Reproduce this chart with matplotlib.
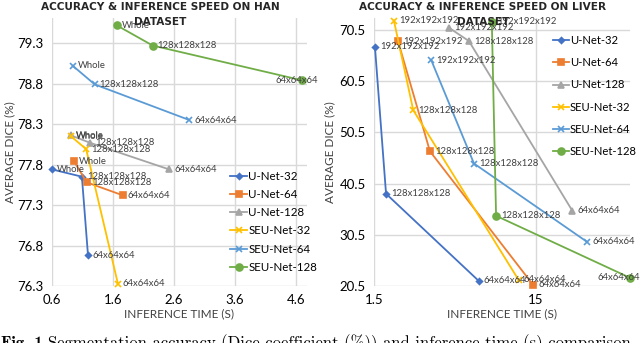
import numpy as np
import matplotlib
matplotlib.use("Agg")
import matplotlib.pyplot as plt
from matplotlib.transforms import offset_copy

# ---------------- data ----------------
series_names = ["U-Net-32", "U-Net-64", "U-Net-128", "SEU-Net-32", "SEU-Net-64", "SEU-Net-128"]
colors = ["#4472C4", "#ED7D31", "#A5A5A5", "#FFC000", "#5B9BD5", "#70AD47"]
markers = ["D", "s", "^", "x", "x", "o"]
msizes = [3, 5, 4.5, 5, 5, 5]

han_labels = ["Whole", "128x128x128", "64x64x64"]
han_time = {
    "U-Net-32": [0.60, 1.09, 1.19],
    "U-Net-64": [0.96, 1.17, 1.76],
    "U-Net-128": [0.91, 1.22, 2.52],
    "SEU-Net-32": [0.91, 1.16, 1.68],
    "SEU-Net-64": [0.94, 1.30, 2.85],
    "SEU-Net-128": [1.66, 2.25, 4.70],
}
han_dice = {
    "U-Net-32": [77.74, 77.65, 76.68],
    "U-Net-64": [77.84, 77.58, 77.42],
    "U-Net-128": [78.16, 78.07, 77.74],
    "SEU-Net-32": [78.15, 77.99, 76.33],
    "SEU-Net-64": [79.02, 78.79, 78.35],
    "SEU-Net-128": [79.52, 79.27, 78.84],
}

liver_labels = ["192x192x192", "128x128x128", "64x64x64"]
liver_time = {
    "U-Net-32": [1.52, 1.78, 6.64],
    "U-Net-64": [2.11, 3.32, 14.4],
    "U-Net-128": [4.35, 5.78, 25.1],
    "SEU-Net-32": [1.99, 2.62, 11.7],
    "SEU-Net-64": [3.38, 6.21, 31.0],
    "SEU-Net-128": [8.0, 8.5, 57.0],
}
liver_dice = {
    "U-Net-32": [67.2, 38.5, 21.5],
    "U-Net-64": [68.3, 46.8, 20.7],
    "U-Net-128": [70.9, 68.3, 35.2],
    "SEU-Net-32": [72.3, 54.8, 21.7],
    "SEU-Net-64": [64.6, 44.4, 29.1],
    "SEU-Net-128": [72.1, 34.2, 22.1],
}

han_xticks = [0.6, 1.6, 2.6, 3.6, 4.6]
han_yticks = [76.3, 76.8, 77.3, 77.8, 78.3, 78.8, 79.3]
liver_xticks = [1.5, 15]
liver_yticks = [20.5, 30.5, 40.5, 50.5, 60.5, 70.5]

# ---------------- figure ----------------
W, H = 640, 343
fig = plt.figure(figsize=(W / 100, H / 100), dpi=100)
plt.rcParams["font.family"] = ["Lato", "DejaVu Sans"]

def px_axes(x0, y0, x1, y1):
    return fig.add_axes([x0 / W, 1 - y1 / H, (x1 - x0) / W, (y1 - y0) / H])

ax1 = px_axes(52, 18, 307, 286)
ax2 = px_axes(374, 18, 630, 286)

text_col = "#404040"
grid_col = "#D9D9D9"

def style(ax):
    for s in ax.spines.values():
        s.set_visible(False)
    ax.grid(True, color=grid_col, linewidth=1.0)
    ax.set_axisbelow(True)
    ax.tick_params(length=0, labelsize=9.5, colors="black", pad=6)

def draw(ax, times, dice, labels, special=None):
    for name, c, m, ms in zip(series_names, colors, markers, msizes):
        ax.plot(times[name], dice[name], color=c, marker=m, markersize=ms,
                linewidth=1.3, markeredgewidth=1.2, label=name, clip_on=False)
        for i, (t, d) in enumerate(zip(times[name], dice[name])):
            ha = "left"
            dx = 5
            if special and (name, i) in special:
                ha, dx = special[(name, i)]
            tr = offset_copy(ax.transData, fig=fig, x=dx * 0.72, y=0, units="points")
            ax.text(t, d, labels[i], transform=tr, ha=ha, va="center",
                    fontsize=6.8, color=text_col, family=["Lato", "DejaVu Sans"])

# left chart
style(ax1)
draw(ax1, han_time, han_dice, han_labels, special={("SEU-Net-128", 2): ("right", 16)})
ax1.set_xlim(0.6, 4.78)
ax1.set_ylim(76.3, 79.61)
ax1.set_xticks(han_xticks)
ax1.set_xticklabels([f"{v:.1f}" for v in han_xticks])
ax1.set_yticks(han_yticks)
ax1.set_yticklabels([f"{v:.1f}" for v in han_yticks])

# right chart
style(ax2)
ax2.set_xscale("log")
draw(ax2, liver_time, liver_dice, liver_labels, special={("SEU-Net-128", 2): ("right", 10)})
ax2.set_xlim(1.5, 57.0)
ax2.set_ylim(20.5, 72.8)
ax2.set_xticks(liver_xticks)
ax2.set_xticklabels(["1.5", "15"])
ax2.xaxis.set_minor_locator(matplotlib.ticker.NullLocator())
ax2.set_yticks(liver_yticks)
ax2.set_yticklabels([f"{v:.1f}" for v in liver_yticks])

# titles
for cx, line1 in ((160, "ACCURACY & INFERENCE SPEED ON HAN"), (483, "ACCURACY & INFERENCE SPEED ON LIVER")):
    fig.text(cx / W, 1 - 7 / H, line1, ha="center", va="center",
             fontsize=7.6, fontweight="bold", family=["DejaVu Sans"], color="#262626")
    fig.text(cx / W, 1 - 22 / H, "DATASET", ha="center", va="center",
             fontsize=7.6, fontweight="bold", family=["DejaVu Sans"], color="#262626")

# axis labels
for cx in (179, 502):
    fig.text(cx / W, 1 - 314 / H, "INFERENCE TIME (S)", ha="center", va="center", fontsize=8.5, color=text_col)
for cx in (10, 330):
    fig.text(cx / W, 1 - 152 / H, "AVERAGE DICE (%)", ha="center", va="center", rotation=90,
             fontsize=8.5, color=text_col)

# legends
ax1.legend(loc="upper left", bbox_to_anchor=(230 / W, 1 - 171 / H), bbox_transform=fig.transFigure,
           frameon=False, fontsize=8.3, handlelength=1.5, handletextpad=0.1, labelspacing=0.62,
           borderpad=0, borderaxespad=0)
ax2.legend(loc="upper left", bbox_to_anchor=(553 / W, 1 - 35 / H), bbox_transform=fig.transFigure,
           frameon=False, fontsize=8.1, handlelength=1.4, handletextpad=0.1, labelspacing=1.0,
           borderpad=0, borderaxespad=0)

# caption (cut off at bottom)
fig.text(1 / W, -5 / H, "Fig. 1.", ha="left", va="baseline", fontsize=12, family="cmb10")
fig.text(48 / W, -5 / H, "Segmentation accuracy (Dice coefficient (%)) and inference time (s) comparison",
         ha="left", va="baseline", fontsize=12, family="cmr10")

fig.savefig("out.png", dpi=100)
